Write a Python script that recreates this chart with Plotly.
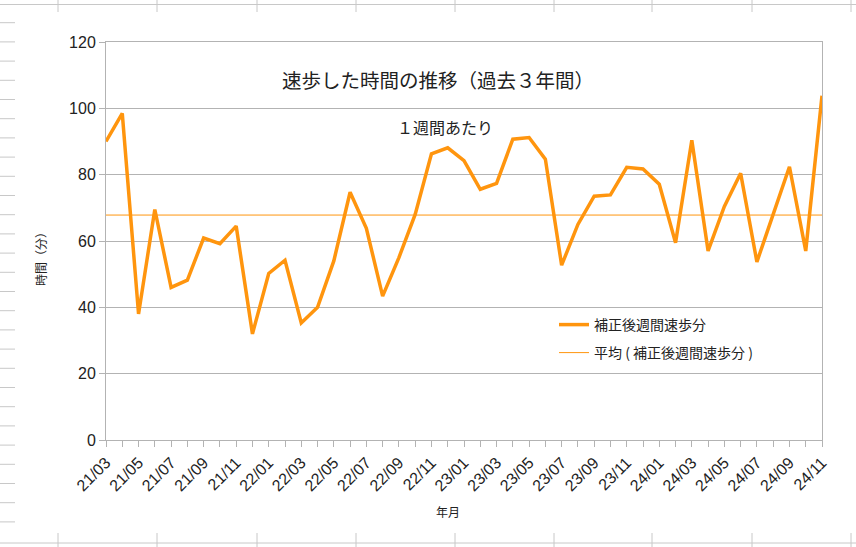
import plotly.graph_objects as go

months = ["21/03", "21/04", "21/05", "21/06", "21/07", "21/08", "21/09", "21/10", "21/11", "21/12",
          "22/01", "22/02", "22/03", "22/04", "22/05", "22/06", "22/07", "22/08", "22/09", "22/10", "22/11", "22/12",
          "23/01", "23/02", "23/03", "23/04", "23/05", "23/06", "23/07", "23/08", "23/09", "23/10", "23/11", "23/12",
          "24/01", "24/02", "24/03", "24/04", "24/05", "24/06", "24/07", "24/08", "24/09", "24/10", "24/11"]
walk_minutes = [90, 98.5, 38, 69.5, 46, 48.2, 60.9, 59.2, 64.5, 32,
                50.2, 54.2, 35.3, 40, 54, 74.7, 63.8, 43.4, 55, 68, 86.3, 88.1,
                84.2, 75.6, 77.4, 90.7, 91.2, 84.7, 52.7, 65, 73.5, 73.9, 82.2, 81.7,
                77.1, 59.5, 90.4, 57, 70.4, 80.4, 53.7, 67.7, 82.4, 57, 103.8]
y_ticks = [0, 20, 40, 60, 80, 100, 120]

avg = sum(walk_minutes) / len(walk_minutes)
idx = list(range(len(months)))
tick_text = [m if i % 2 == 0 else "" for i, m in enumerate(months)]

ORANGE = "#ff950e"
GRID = "#b3b3b3"
TXT = "#222222"
FONT = "Liberation Sans, Noto Sans CJK JP, sans-serif"
JFONT = "Noto Sans CJK JP, Liberation Sans, sans-serif"

fig = go.Figure()
fig.add_trace(go.Scatter(x=idx, y=walk_minutes, mode="lines", name="補正後週間速歩分",
                         line=dict(color=ORANGE, width=3.5), legend="legend", showlegend=True))
fig.add_trace(go.Scatter(x=idx, y=[avg] * len(idx), mode="lines", name="平均 ( 補正後週間速歩分 )",
                         line=dict(color=ORANGE, width=1), legend="legend2", showlegend=True))

L, R, T, B = 106, 34, 42, 107
W, H = 856, 547
pw, ph = W - L - R, H - T - B

def px(xp):
    return (xp - L) / pw

def py(yp):
    return (H - B - yp) / ph

shapes = []
bg = "#c8c8c8"
# spreadsheet cell grid showing behind the chart
for k in range(27):
    yy = 22.7 + 19.2 * k
    if yy > 530:
        break
    shapes.append(dict(type="line", xref="paper", yref="paper", x0=px(0), x1=px(15), y0=py(yy), y1=py(yy),
                       line=dict(color=bg, width=1), layer="below"))
shapes.append(dict(type="line", xref="paper", yref="paper", x0=px(0), x1=px(856), y0=py(4.5), y1=py(4.5),
                   line=dict(color=bg, width=1), layer="below"))
shapes.append(dict(type="line", xref="paper", yref="paper", x0=px(0), x1=px(856), y0=py(543), y1=py(543),
                   line=dict(color=bg, width=1), layer="below"))
for xx in [58, 157, 257, 356, 455, 554, 652, 752, 851]:
    shapes.append(dict(type="line", xref="paper", yref="paper", x0=px(xx), x1=px(xx), y0=py(0), y1=py(12),
                       line=dict(color=bg, width=1), layer="below"))
    shapes.append(dict(type="line", xref="paper", yref="paper", x0=px(xx), x1=px(xx), y0=py(533), y1=py(547),
                       line=dict(color=bg, width=1), layer="below"))

def note(text, x, y, size, angle=0):
    return dict(text=text, xref="paper", yref="paper", x=px(x), y=py(y), xanchor="center", yanchor="middle",
                textangle=angle, showarrow=False, font=dict(family=JFONT, size=size, color=TXT))

fig.update_layout(
    width=W, height=H,
    margin=dict(l=L, r=R, t=T, b=B, autoexpand=False),
    paper_bgcolor="white", plot_bgcolor="white",
    font=dict(family=FONT, color=TXT),
    showlegend=True,
    shapes=shapes,
    xaxis=dict(range=[0, len(idx) - 1], tickmode="array", tickvals=idx, ticktext=tick_text,
               tickangle=-45, ticks="outside", ticklen=6, tickcolor=GRID, tickfont=dict(size=16, color=TXT),
               showgrid=False, showline=True, linecolor=GRID, linewidth=1, mirror=True, zeroline=False),
    yaxis=dict(range=[0, 120], tickmode="array", tickvals=y_ticks, ticks="outside", ticklen=6, tickcolor=GRID,
               tickfont=dict(size=16, color=TXT), showgrid=True, gridcolor=GRID, gridwidth=1,
               showline=True, linecolor=GRID, linewidth=1, mirror=True, zeroline=False),
    legend=dict(visible=True, x=px(554), y=py(325), xanchor="left", yanchor="middle", bgcolor="rgba(0,0,0,0)",
                font=dict(family=JFONT, size=14, color=TXT)),
    legend2=dict(visible=True, x=px(554), y=py(353), xanchor="left", yanchor="middle", bgcolor="rgba(0,0,0,0)",
                 font=dict(family=JFONT, size=14, color=TXT)),
    annotations=[
        note("速歩した時間の推移（過去３年間）", 438, 80, 19.5),
        note("１週間あたり", 445, 127, 16),
        note("時間（分）", 40, 256, 12, -90),
        note("年月", 448, 512, 12),
    ],
)

fig.write_html("out.html", config={"displayModeBar": False},
               post_script="document.body.style.margin='0px';")
